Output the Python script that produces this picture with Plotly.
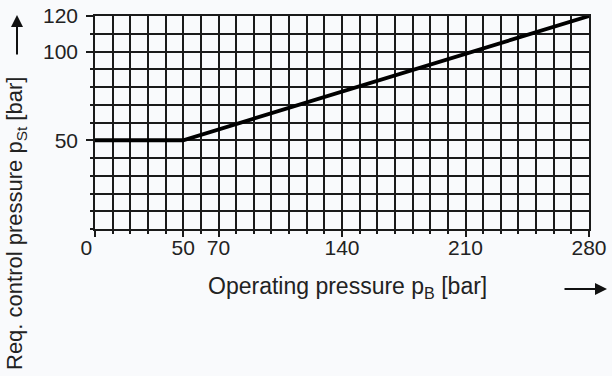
import plotly.graph_objects as go

# Data
operating_pressure = [0, 50, 280]
control_pressure = [50, 50, 120]
x_tick_vals = [0, 50, 70, 140, 210, 280]
x_tick_text = ["0\u00a0\u00a0\u00a0", "50", "70", "140", "210", "280"]
y_tick_vals = [50, 100, 120]
y_tick_text = ["50", "100", "120"]

FONT = "Liberation Sans, Arial, sans-serif"
TXT = "#222222"
BG = "#f9fafc"
LINE = "#1a1a1a"

fig = go.Figure()
fig.add_trace(go.Scatter(
    x=operating_pressure, y=control_pressure, mode="lines",
    line=dict(color="#000000", width=3.8), showlegend=False, hoverinfo="skip"))

axis_common = dict(
    showgrid=True, gridcolor=LINE, gridwidth=1.6,
    showline=True, linecolor=LINE, linewidth=1.6, mirror=True,
    ticks="outside", tickwidth=1.6, tickcolor=LINE,
    zeroline=False, fixedrange=True,
    tickfont=dict(family=FONT, size=21, color=TXT),
)

fig.update_xaxes(
    range=[0, 280], tickmode="array", tickvals=x_tick_vals, ticktext=x_tick_text,
    ticklen=6, ticklabelstandoff=-7,
    minor=dict(dtick=10, tick0=0, showgrid=True, gridcolor=LINE, gridwidth=1.6,
               ticks="outside", ticklen=3, tickwidth=1.6, tickcolor=LINE),
    **axis_common)
fig.update_yaxes(
    range=[0, 120], tickmode="array", tickvals=y_tick_vals, ticktext=y_tick_text,
    ticklen=7, ticklabelstandoff=4,
    minor=dict(dtick=10, tick0=0, showgrid=True, gridcolor=LINE, gridwidth=1.6,
               ticks="outside", ticklen=3, tickwidth=1.6, tickcolor=LINE),
    **axis_common)

L, R, T, B = 95, 23, 16, 147
PW, PH = 612 - L - R, 376 - T - B

def px(xp):
    return (xp - L) / PW

def py(yp):
    return (376 - B - yp) / PH

annotations = [
    dict(text="Operating pressure p<sub>B</sub> [bar]", x=px(347), y=py(287),
         xref="paper", yref="paper", showarrow=False, xanchor="center", yanchor="middle",
         font=dict(family=FONT, size=23, color=TXT)),
    dict(text="Req. control pressure p<sub>St</sub> [bar]", x=px(16), y=py(224),
         xref="paper", yref="paper", showarrow=False, xanchor="center", yanchor="middle",
         textangle=-90, font=dict(family=FONT, size=22, color=TXT)),
    dict(text="", x=px(17), y=py(15), xref="paper", yref="paper",
         showarrow=True, ax=0, ay=41, arrowhead=2, arrowsize=1.2, arrowwidth=2, arrowcolor="#111111"),
    dict(text="", x=px(607), y=py(289), xref="paper", yref="paper",
         showarrow=True, ax=-44, ay=0, arrowhead=2, arrowsize=1.2, arrowwidth=2, arrowcolor="#111111"),
]

fig.update_layout(
    width=612, height=376,
    margin=dict(l=L, r=R, t=T, b=B, autoexpand=False),
    paper_bgcolor=BG, plot_bgcolor=BG,
    annotations=annotations,
    showlegend=False,
)

fig.write_html("out.html", config={"displayModeBar": False},
               post_script="document.body.style.margin='0';document.body.style.padding='0';document.body.style.background='%s';" % BG)
